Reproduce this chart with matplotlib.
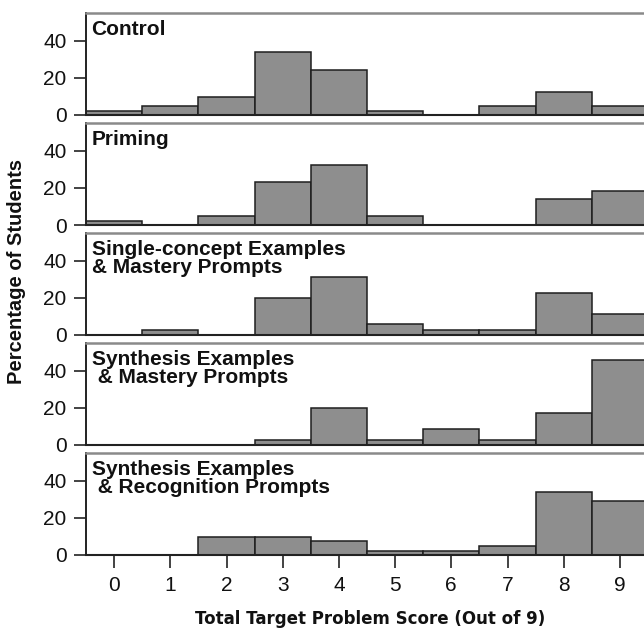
import matplotlib
matplotlib.use('Agg')
import matplotlib.pyplot as plt

scores = [0, 1, 2, 3, 4, 5, 6, 7, 8, 9]

grupos = [
    'Control',
    'Priming',
    'Single-concept Examples\n& Mastery Prompts',
    'Synthesis Examples\n & Mastery Prompts',
    'Synthesis Examples\n & Recognition Prompts',
]

# percentual de alunos por nota, um painel por grupo
pct_controle = [2.4, 4.9, 9.8, 34.1, 24.4, 2.4, 0.0, 4.9, 12.2, 4.9]
pct_priming = [2.3, 0.0, 4.7, 23.3, 32.6, 4.7, 0.0, 0.0, 14.0, 18.6]
pct_single_mastery = [0.0, 2.9, 0.0, 20.0, 31.4, 5.7, 2.9, 2.9, 22.9, 11.4]
pct_synth_mastery = [0.0, 0.0, 0.0, 2.9, 20.0, 2.9, 8.6, 2.9, 17.1, 45.7]
pct_synth_recog = [0.0, 0.0, 9.8, 9.8, 7.3, 2.4, 2.4, 4.9, 34.1, 29.3]

series = [pct_controle, pct_priming, pct_single_mastery,
          pct_synth_mastery, pct_synth_recog]

W, H = 644, 631
fig = plt.figure(figsize=(W / 100, H / 100), dpi=100)

left = 86 / W
width = (648 - 86) / W
altura = 102 / H

for i, (nome, valores) in enumerate(zip(grupos, series)):
    base = 115 + 110 * i
    ax = fig.add_axes([left, 1 - base / H, width, altura])
    ax.bar(scores, valores, width=1.0, color='#8e8e8e',
           edgecolor='#1e1e1e', linewidth=1.1)
    ax.set_xlim(-0.5, 9.5)
    ax.set_ylim(0, 55)
    ax.set_yticks([0, 20, 40])
    ax.tick_params(axis='y', direction='out', length=9, width=1.2,
                   color='#222222', labelsize=15, pad=5)
    ax.spines['left'].set_color('#222222')
    ax.spines['left'].set_linewidth(1.4)
    ax.spines['bottom'].set_color('#222222')
    ax.spines['bottom'].set_linewidth(1.5)
    ax.spines['top'].set_color('#8a8a8a')
    ax.spines['top'].set_linewidth(1.8)
    ax.spines['right'].set_visible(False)
    for lbl in ax.get_yticklabels():
        lbl.set_family('Liberation Sans')
        lbl.set_color('#111111')

    ax.annotate(nome, xy=(0, 1), xycoords='axes fraction',
                xytext=(4, -5), textcoords='offset points',
                ha='left', va='top', fontsize=15, fontweight='bold',
                family='Liberation Sans', linespacing=0.92, color='#111111')

    if i < len(grupos) - 1:
        ax.set_xticks([])
    else:
        ax.set_xticks(scores)
        ax.tick_params(axis='x', direction='out', length=9, width=1.2,
                       color='#222222', labelsize=15, pad=6)
        for lbl in ax.get_xticklabels():
            lbl.set_family('Liberation Sans')
            lbl.set_color('#111111')

fig.text(17 / W, 1 - 271 / H, 'Percentage of Students', rotation=90,
         ha='center', va='center', fontsize=14.5, fontweight='bold',
         family='Liberation Sans', color='#111111')
fig.text(370 / W, 1 - 619 / H, 'Total Target Problem Score (Out of 9)',
         ha='center', va='center', fontsize=12, fontweight='bold',
         family='DejaVu Sans', color='#111111')

fig.savefig('out.png', dpi=100, facecolor='white')
